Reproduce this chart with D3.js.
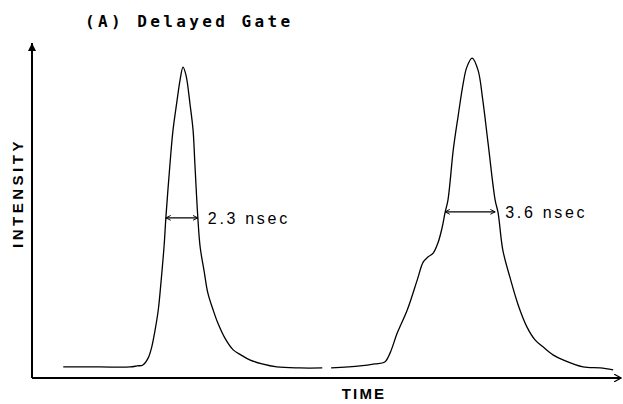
<!DOCTYPE html>
<html lang="en">
<head>
    <meta charset="UTF-8">
    <title>Delayed Gate</title>
    <script src="https://d3js.org/d3.v7.min.js"></script>
    <style>
        body { margin: 0; background: #fff; }
        svg { display: block; }
    </style>
</head>
<body>
    <div id="chart"></div>
    <script>
        // Trace 1 (narrow peak), arbitrary time / intensity units
        const time1 = [5.3, 11.5, 16.6, 17.8, 18.8, 19.7, 20.3, 20.8, 21.4, 21.9, 22.4, 22.7, 23.4, 23.9, 24.6, 25.1, 25.6,
                       26.1, 26.8, 27.3, 27.6, 28.1, 28.5, 29.2, 29.8, 30.7, 31.5, 32.7, 34.1, 35.4, 36.9, 39.0, 41.5, 45.4, 49.2];
        const int1  = [3.3, 3.3, 3.3, 3.6, 3.9, 6.0, 9.3, 13.7, 20.3, 29.3, 39.7, 48.1, 64.2, 74.0, 83.0, 89.0, 92.8,
                       90.4, 81.5, 74.0, 64.2, 48.1, 39.1, 31.6, 25.4, 20.3, 16.4, 11.9, 8.4, 6.9, 5.4, 4.2, 3.3, 3.0, 3.0];

        // Trace 2 (broad peak with shoulder)
        const time2 = [50.7, 55.6, 58.1, 59.8, 60.7, 61.9, 63.6, 65.3, 66.3, 67.1, 68.0, 68.8, 69.5, 70.0, 70.5, 71.4, 72.2,
                       73.1, 73.7, 74.6, 75.6, 76.4, 77.3, 78.5, 79.0, 79.8, 81.0, 82.4, 83.9, 85.3, 86.6, 88.3, 90.0, 93.4, 96.3, 98.5];
        const int2  = [3.0, 3.6, 4.2, 4.8, 7.5, 13.4, 20.3, 29.3, 34.6, 36.1, 37.3, 40.3, 44.8, 49.3, 53.1, 68.1, 77.9,
                       88.1, 92.8, 95.5, 91.9, 83.0, 70.1, 53.1, 49.3, 38.2, 30.1, 21.8, 15.2, 11.3, 9.3, 6.9, 5.4, 3.3, 3.0, 2.4];

        // FWHM markers: [start, end, level]
        const fwhmStart = [22.7, 70.0];
        const fwhmEnd   = [28.1, 78.5];
        const fwhmLevel = [47.8, 49.6];
        const fwhmLabels = ["2.3 nsec", "3.6 nsec"];

        const title = "(A) Delayed Gate";
        const xLabel = "TIME";
        const yLabel = "INTENSITY";

        const W = 623, H = 404;
        const margin = {top: 43, right: 1, bottom: 26, left: 32};

        const svg = d3.select("#chart").append("svg")
            .attr("width", W)
            .attr("height", H);

        const x = d3.scaleLinear().domain([0, 100]).range([margin.left, W - margin.right]);
        const y = d3.scaleLinear().domain([0, 100]).range([H - margin.bottom, margin.top]);

        // arrow markers
        const defs = svg.append("defs");
        defs.append("marker")
            .attr("id", "headY")
            .attr("viewBox", "0 0 10 10")
            .attr("refX", 10).attr("refY", 5)
            .attr("markerWidth", 4).attr("markerHeight", 5)
            .attr("markerUnits", "strokeWidth")
            .attr("orient", "auto")
            .append("path").attr("d", "M0,0L10,5L0,10Z").attr("fill", "#000");
        defs.append("marker")
            .attr("id", "headX")
            .attr("viewBox", "0 0 10 10")
            .attr("refX", 9).attr("refY", 5)
            .attr("markerWidth", 4).attr("markerHeight", 4)
            .attr("markerUnits", "strokeWidth")
            .attr("orient", "auto")
            .append("path").attr("d", "M0,0L9,5L0,10").attr("fill", "none").attr("stroke", "#000").attr("stroke-width", 1.6);
        defs.append("marker")
            .attr("id", "dim")
            .attr("viewBox", "0 0 10 10")
            .attr("refX", 9).attr("refY", 5)
            .attr("markerWidth", 6).attr("markerHeight", 6)
            .attr("markerUnits", "userSpaceOnUse")
            .attr("orient", "auto-start-reverse")
            .append("path").attr("d", "M1,1L9,5L1,9").attr("fill", "none").attr("stroke", "#000").attr("stroke-width", 1.6);

        // axes
        svg.append("line")
            .attr("x1", x(0)).attr("x2", x(0))
            .attr("y1", y(0)).attr("y2", y(100))
            .attr("stroke", "#000").attr("stroke-width", 2)
            .attr("marker-end", "url(#headY)");
        svg.append("line")
            .attr("x1", x(0)).attr("x2", x(100) - 1)
            .attr("y1", y(0)).attr("y2", y(0))
            .attr("stroke", "#000").attr("stroke-width", 2)
            .attr("marker-end", "url(#headX)");

        // traces
        const line = d3.line()
            .x(d => x(d[0]))
            .y(d => y(d[1]))
            .curve(d3.curveCatmullRom.alpha(0.5));

        const traces = [d3.zip(time1, int1), d3.zip(time2, int2)];
        svg.selectAll(".trace")
            .data(traces)
            .join("path")
            .attr("class", "trace")
            .attr("d", line)
            .attr("fill", "none")
            .attr("stroke", "#000")
            .attr("stroke-width", 1.3);

        // FWHM arrows and labels
        fwhmLabels.forEach((lab, i) => {
            const yy = y(fwhmLevel[i]);
            svg.append("line")
                .attr("x1", x(fwhmStart[i])).attr("x2", x(fwhmEnd[i]))
                .attr("y1", yy).attr("y2", yy)
                .attr("stroke", "#000").attr("stroke-width", 1.4)
                .attr("marker-start", "url(#dim)")
                .attr("marker-end", "url(#dim)");
            svg.append("text")
                .attr("x", x(fwhmEnd[i]) + 10)
                .attr("y", yy + 6)
                .attr("font-family", "Liberation Sans, Arial, sans-serif")
                .attr("font-size", 16)
                .attr("letter-spacing", 2.7)
                .attr("fill", "#000")
                .text(lab);
        });

        // title
        svg.append("text")
            .attr("x", 85)
            .attr("y", 27)
            .attr("font-family", "DejaVu Sans Mono, monospace")
            .attr("font-weight", "bold")
            .attr("font-size", 16)
            .attr("letter-spacing", 3.4)
            .text(title);

        // axis labels
        svg.append("text")
            .attr("x", (x(0) + x(100)) / 2 + 37)
            .attr("y", 399)
            .attr("text-anchor", "middle")
            .attr("font-family", "Liberation Sans Narrow, Liberation Sans, sans-serif")
            .attr("font-weight", "bold")
            .attr("font-size", 15)
            .attr("letter-spacing", 2.2)
            .text(xLabel);

        svg.append("text")
            .attr("transform", `translate(23, 193) rotate(-90)`)
            .attr("text-anchor", "middle")
            .attr("font-family", "Liberation Sans Narrow, Liberation Sans, sans-serif")
            .attr("font-weight", "bold")
            .attr("font-size", 15)
            .attr("letter-spacing", 3.5)
            .text(yLabel);
    </script>
</body>
</html>
